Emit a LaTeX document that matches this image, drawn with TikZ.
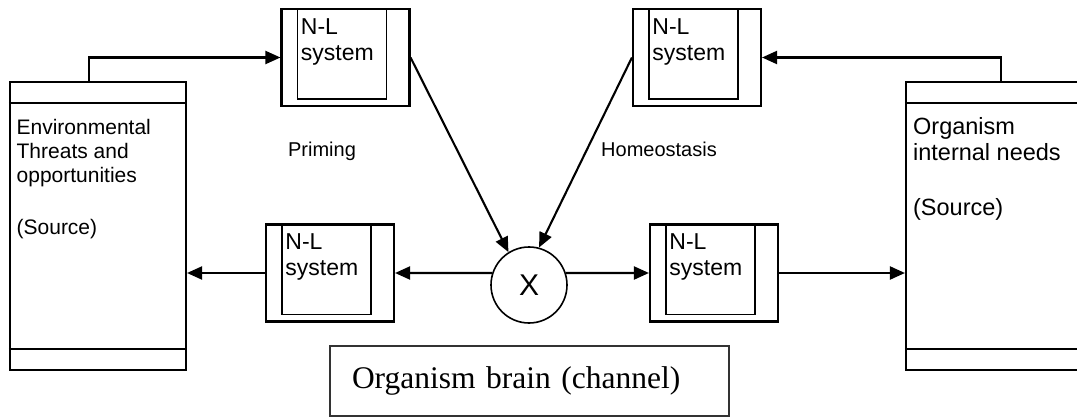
\documentclass[tikz,border=0pt]{standalone}
\usepackage{fontspec}
\setmainfont{Liberation Sans}
\newfontfamily\chanfont{Liberation Serif}
\usetikzlibrary{calc, arrows.meta, positioning}

\begin{document}
\begin{tikzpicture}[
    x=1pt, y=-1pt,
    every node/.style={inner sep=0pt},
    source/.style={draw, line width=2.1pt, minimum width=176pt, minimum height=288pt},
    nlouter/.style={draw, line width=2.1pt, minimum width=128pt, minimum height=97pt},
    nlinner/.style={draw, line width=1.5pt, minimum width=89pt, minimum height=90pt},
    nltext/.style={anchor=north west, align=left, font={\fontsize{23}{26}\selectfont}},
    lbl/.style={anchor=base, font={\fontsize{20}{24}\selectfont}},
    flow/.style={line width=2.1pt, -{Triangle[length=15pt, width=13pt]}},
  ]
  \useasboundingbox (0,0) rectangle (1077,417);

  % sources at both ends
  \node[source] (envsrc) at (98,226) {};
  \node[source] (needsrc) at (994,226) {};
  \draw[line width=1.5pt] ($(envsrc.north west)+(0,22)$) -- ($(envsrc.north east)+(0,22)$);
  \draw[line width=1.5pt] ($(envsrc.south west)+(0,-22)$) -- ($(envsrc.south east)+(0,-22)$);
  \draw[line width=1.5pt] ($(needsrc.north west)+(0,22)$) -- ($(needsrc.north east)+(0,22)$);
  \draw[line width=1.5pt] ($(needsrc.south west)+(0,-22)$) -- ($(needsrc.south east)+(0,-22)$);
  \node[anchor=north west, align=left, font={\fontsize{21}{24.2}\selectfont}] (envtxt)
    at ($(envsrc.north west)+(7.5,38)$) {Environmental\\Threats and\\opportunities\\[28pt](Source)};
  \node[anchor=north west, align=left, font={\fontsize{23.5}{26.7}\selectfont}] (needtxt)
    at ($(needsrc.north west)+(8,36)$) {Organism\\internal needs\\[28pt](Source)};

  % the four N-L systems
  \foreach \nm/\cx/\cy in {nlTL/345.5/57.5, nlTR/697/57.5, nlBL/330/273, nlBR/714/273} {
    \node[nlouter] (\nm) at (\cx,\cy) {};
    \node[nlinner] (\nm in) at (\cx-3.5,\cy-3.5) {};
    \node[nltext] at ($(\nm in.north west)+(4,10)$) {N-L\\system};
  }

  \node[draw, circle, line width=1.6pt, minimum size=76pt,
        font={\fontsize{30}{30}\selectfont}] (mult) at (529,285) {X};

  \node[draw=black!80, line width=1.4pt, minimum width=399pt, minimum height=70pt,
        text width=355pt, align=left, font={\chanfont\fontsize{31.5}{36}\selectfont}]
    (chan) at (529.5,381) {Organism brain (channel)};

  \node[lbl] (priming) at (322,157) {Priming};
  \node[lbl] (homeo) at (659,157) {Homeostasis};

  % connectors
  \draw[flow] ($(envsrc.north west)+(80,0)$) |- (nlTL.west);
  \draw[flow] ($(needsrc.north west)+(96,0)$) |- (nlTR.east);
  \draw[flow] (nlTL.east) -- (mult.122);
  \draw[flow] (nlTR.west) -- (mult.75);
  \draw[flow] (mult.162) -- (nlBL.east);
  \draw[flow] (nlBL.west) -- (nlBL.west -| envsrc.east);
  \draw[flow] (mult.18) -- (nlBR.west);
  \draw[flow] (nlBR.east) -- (nlBR.east -| needsrc.west);
\end{tikzpicture}
\end{document}
